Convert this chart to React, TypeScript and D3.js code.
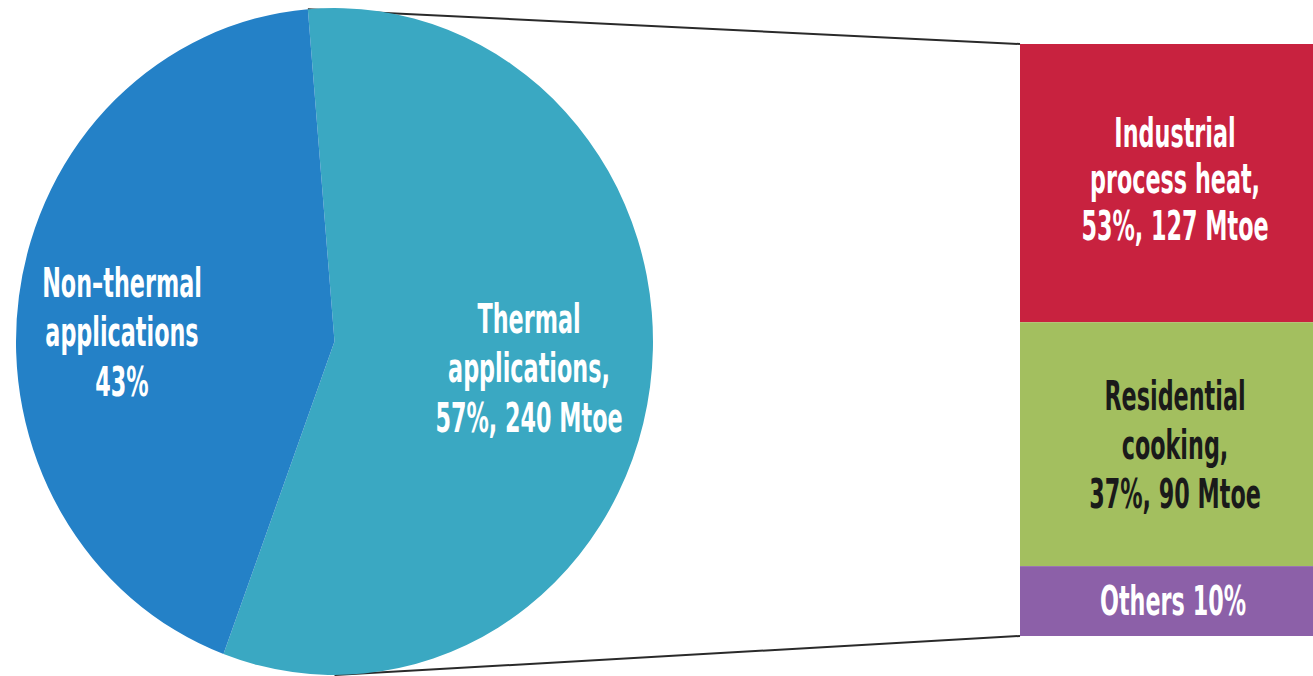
import React from "react";
import * as d3 from "d3";

const pieLabels = ["Thermal", "Non-thermal"];
const pieValues = [57, 43];
const pieColors = ["#3aa8c2", "#2481c7"];
const pieText = [
  ["Thermal", "applications,", "57%, 240 Mtoe"],
  ["Non–thermal", "applications", "43%"],
];

const barCategories = ["Industrial process heat", "Residential cooking", "Others"];
// visual shares as drawn in the picture
const barValues = [47, 41.2, 11.8];
const barColors = ["#c8223f", "#a3bf5f", "#8c60a8"];
const barTextColors = ["#ffffff", "#1a1a1a", "#ffffff"];
const barText = [
  ["Industrial", "process heat,", "53%, 127 Mtoe"],
  ["Residential", "cooking,", "37%, 90 Mtoe"],
  ["Others 10%"],
];

const W = 1313;
const H = 676;

export default function App() {
  const cx = 334.5;
  const cy = 341.5;
  const r = 333.5;
  const sx = 318.5 / 333.5;
  const start = (-4.8 * Math.PI) / 180;
  const pie = d3
    .pie<number>()
    .sort(null)
    .startAngle(start)
    .endAngle(start + 2 * Math.PI);
  const arcs = pie(pieValues);
  const arc = d3.arc<d3.PieArcDatum<number>>().innerRadius(0).outerRadius(r);

  const barX0 = 1020;
  const barX1 = 1313;
  const y = d3
    .scaleLinear()
    .domain([0, d3.sum(barValues)])
    .range([44, 636]);
  let acc = 0;
  const segs = barValues.map((v, i) => {
    const s = { y0: y(acc), y1: y(acc + v), i };
    acc += v;
    return s;
  });

  const topPt = [cx + r * Math.sin(start) * sx, cy - r * Math.cos(start)];
  const botPt = [cx, cy + r];

  const font = "'DejaVu Sans Condensed', 'DejaVu Sans', sans-serif";
  const fs = 40;
  const scaleX = 0.62;

  const pieLabelPos = [
    [529, 333],
    [122, 297],
  ];
  const lineH = 49.5;

  const textBlock = (
    lines: string[],
    x: number,
    yb: number,
    lh: number,
    color: string,
    key: string
  ) => (
    <g key={key} transform={`translate(${x},0) scale(${scaleX},1)`}>
      {lines.map((t, j) => (
        <text
          key={j}
          x={0}
          y={yb + j * lh}
          textAnchor="middle"
          fontFamily={font}
          fontSize={fs}
          fontWeight="bold"
          fill={color}
        >
          {t}
        </text>
      ))}
    </g>
  );

  const barLabelPos = [
    [1175, 147, 46.5],
    [1175, 410, 49],
    [1173, 615, 0],
  ];

  return (
    <svg
      width={W}
      height={H}
      style={{ position: "absolute", left: 0, top: 0, background: "#fff" }}
    >
      <line
        x1={topPt[0]}
        y1={topPt[1]}
        x2={barX0}
        y2={y(0)}
        stroke="#2a2a2a"
        strokeWidth={2}
      />
      <line
        x1={botPt[0]}
        y1={botPt[1]}
        x2={barX0}
        y2={y(d3.sum(barValues))}
        stroke="#2a2a2a"
        strokeWidth={2}
      />
      <g transform={`translate(${cx},${cy}) scale(${sx},1)`}>
        {arcs.map((a, i) => (
          <path key={pieLabels[i]} d={arc(a) || ""} fill={pieColors[i]} />
        ))}
      </g>
      {pieText.map((lines, i) =>
        textBlock(lines, pieLabelPos[i][0], pieLabelPos[i][1], lineH, "#ffffff", "p" + i)
      )}
      {segs.map((s) => (
        <rect
          key={barCategories[s.i]}
          x={barX0}
          y={s.y0}
          width={barX1 - barX0}
          height={s.y1 - s.y0}
          fill={barColors[s.i]}
        />
      ))}
      {barText.map((lines, i) =>
        textBlock(
          lines,
          barLabelPos[i][0],
          barLabelPos[i][1],
          barLabelPos[i][2],
          barTextColors[i],
          "b" + i
        )
      )}
    </svg>
  );
}
